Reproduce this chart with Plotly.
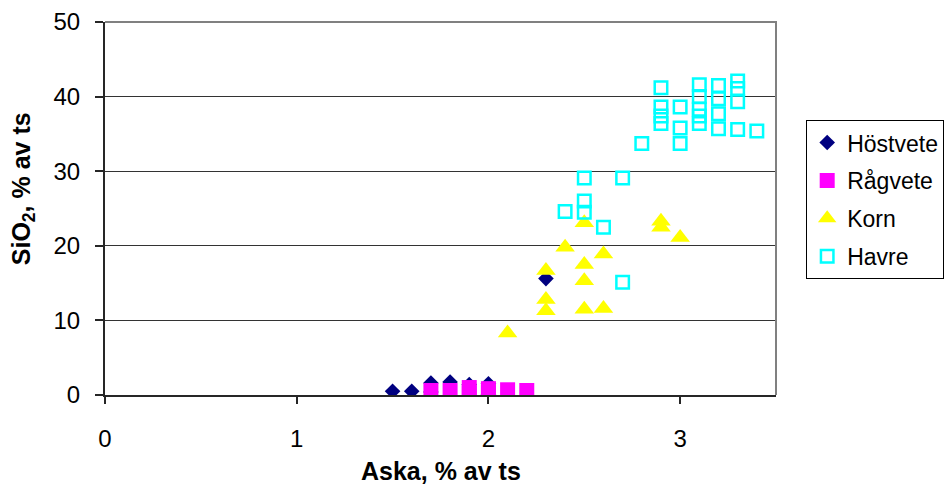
import plotly.graph_objects as go

# Ash content (% of dry matter) versus SiO2 (% of dry matter) per crop
hostvete_aska = [1.5, 1.6, 1.7, 1.7, 1.8, 1.9, 2.0, 2.0, 2.3]
hostvete_sio2 = [0.5, 0.5, 1.6, 0.4, 1.75, 1.4, 1.5, 0.1, 15.6]

ragvete_aska = [1.7, 1.8, 1.9, 1.9, 2.0, 2.0, 2.1, 2.2]
ragvete_sio2 = [0.6, 0.6, 1.0, 0.3, 0.85, 0.3, 0.7, 0.6]

korn_aska = [2.1, 2.3, 2.3, 2.3, 2.4, 2.5, 2.5, 2.5, 2.5, 2.6, 2.6, 2.9, 2.9, 3.0]
korn_sio2 = [8.3, 16.7, 12.8, 11.3, 19.8, 23.1, 17.5, 15.3, 11.5, 18.9, 11.6, 23.3, 22.5, 21.1]

havre_aska = [2.4, 2.5, 2.5, 2.5, 2.6, 2.7, 2.7, 2.8,
              2.9, 2.9, 2.9, 2.9, 3.0, 3.0, 3.0,
              3.1, 3.1, 3.1, 3.1, 3.1, 3.2, 3.2, 3.2, 3.2,
              3.3, 3.3, 3.3, 3.3, 3.4]
havre_sio2 = [24.6, 29.1, 26.0, 24.5, 22.5, 29.1, 15.1, 33.7,
              41.2, 38.6, 37.4, 36.4, 38.6, 35.8, 33.7,
              41.6, 40.0, 38.3, 37.4, 36.4, 41.5, 39.7, 37.7, 35.7,
              42.1, 41.1, 39.3, 35.6, 35.4]

x_ticks = [0, 1, 2, 3]
y_ticks = [0, 10, 20, 30, 40, 50]

FONT = "Liberation Sans, Arial, sans-serif"

fig = go.Figure()
fig.add_trace(go.Scatter(
    x=hostvete_aska, y=hostvete_sio2, mode="markers", name="Höstvete",
    legendgroup="a",
    marker=dict(symbol="diamond", size=12, color="#000080", line=dict(width=0)),
))
fig.add_trace(go.Scatter(
    x=ragvete_aska, y=ragvete_sio2, mode="markers", name="Rågvete",
    legendgroup="b",
    marker=dict(symbol="square", size=15, color="#FF00FF", line=dict(width=0)),
))
fig.add_trace(go.Scatter(
    x=korn_aska, y=korn_sio2, mode="markers", name="Korn",
    legendgroup="c",
    marker=dict(symbol="triangle-up", size=17, color="#FFFF00", line=dict(width=0)),
))
fig.add_trace(go.Scatter(
    x=havre_aska, y=havre_sio2, mode="markers", name="Havre",
    legendgroup="d",
    marker=dict(symbol="square-open", size=12.5, color="#00FFFF",
                line=dict(width=2.5, color="#00FFFF")),
))

fig.update_layout(
    width=951, height=490,
    margin=dict(l=105, r=175, t=22, b=95, autoexpand=False),
    paper_bgcolor="white", plot_bgcolor="white",
    font=dict(family=FONT, size=23, color="black"),
    showlegend=True,
    legend=dict(
        x=1.045, y=0.737, xanchor="left", yanchor="top",
        bordercolor="black", borderwidth=1, bgcolor="white",
        font=dict(size=23), traceorder="grouped", tracegroupgap=5,
        itemwidth=30,
    ),
    xaxis=dict(
        range=[0, 3.5], tickvals=x_ticks, ticktext=[str(v) for v in x_ticks],
        showgrid=False, zeroline=False, automargin=False,
        showline=True, linecolor="#262626", linewidth=2,
        ticks="outside", ticklen=7, tickcolor="#262626", tickwidth=1.5,
        ticklabelstandoff=14, tickfont=dict(size=24),
    ),
    yaxis=dict(
        range=[0, 50], tickvals=y_ticks, ticktext=[str(v) for v in y_ticks],
        showgrid=True, gridcolor="#333333", gridwidth=1, zeroline=False,
        automargin=False,
        showline=True, linecolor="#262626", linewidth=2,
        ticks="outside", ticklen=8, tickcolor="#262626", tickwidth=1.5,
        ticklabelstandoff=10, tickfont=dict(size=24),
    ),
    shapes=[dict(
        type="path", xref="paper", yref="paper",
        path="M 0,1 L 1,1 L 1,0",
        line=dict(color="#808080", width=2), layer="above",
    )],
    annotations=[
        dict(text="<b>Aska, % av ts</b>", xref="paper", yref="paper",
             x=0.5, y=-0.205, xanchor="center", yanchor="middle",
             showarrow=False, font=dict(size=25)),
        dict(text="<b>SiO<sub>2</sub>, % av ts</b>", xref="paper", yref="paper",
             x=-0.122, y=0.552, xanchor="center", yanchor="middle",
             textangle=-90, showarrow=False, font=dict(size=25)),
    ],
)

fig.write_html("out.html")
